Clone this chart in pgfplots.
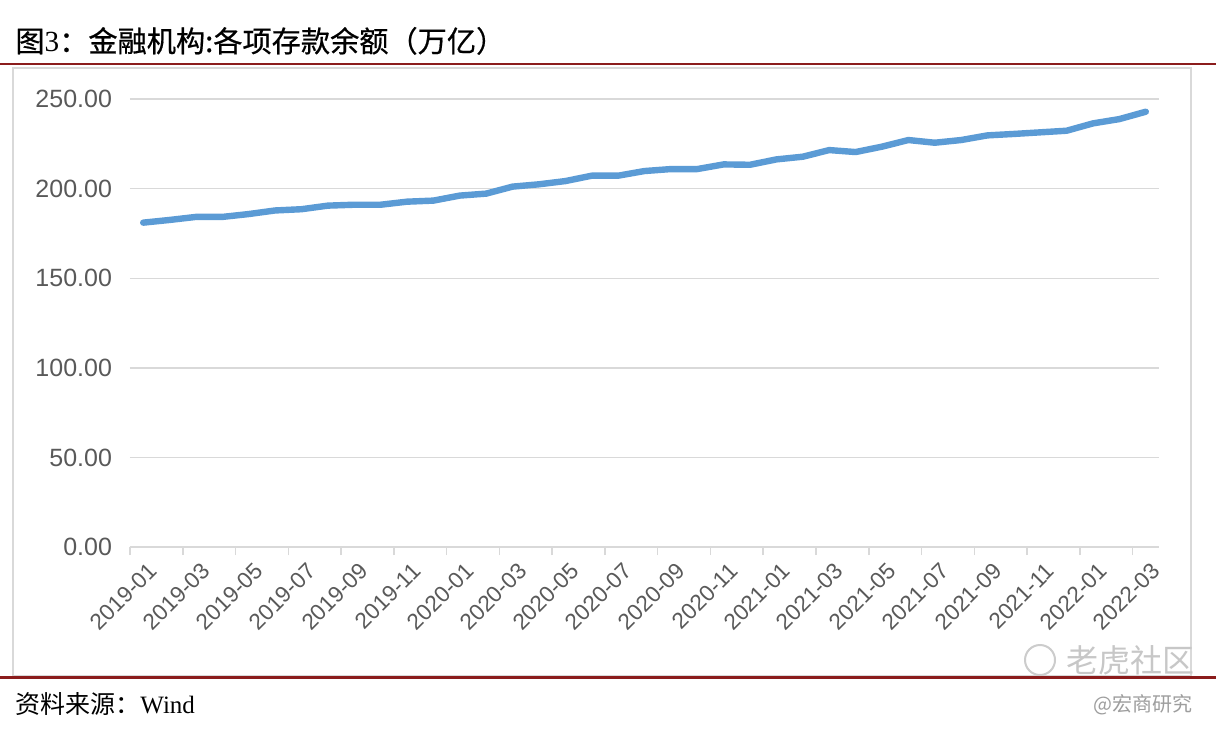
\documentclass[border=0pt]{standalone}
\usepackage{pgfplots}
\pgfplotsset{compat=1.18}
\usepackage{fontspec}
\setmainfont{Liberation Serif}
\setsansfont{Liberation Sans}
\newfontfamily\cjk{Noto Sans CJK SC}
\newfontfamily\cjkt[FakeBold=0.6]{Noto Sans CJK SC}
\definecolor{ln}{HTML}{5B9BD5}
\definecolor{dred}{HTML}{8B1C1C}
\definecolor{tickgray}{HTML}{595959}
\definecolor{gridgray}{HTML}{D9D9D9}
\pgfplotstableread{
i v
0 181.0
1 182.5
2 184.2
3 184.2
4 185.8
5 187.8
6 188.5
7 190.5
8 191.0
9 191.0
10 192.7
11 193.3
12 196.1
13 197.2
14 201.1
15 202.4
16 204.2
17 207.2
18 207.2
19 209.8
20 210.9
21 210.9
22 213.5
23 213.3
24 216.3
25 217.8
26 221.5
27 220.4
28 223.4
29 227.1
30 225.6
31 227.1
32 229.7
33 230.5
34 231.4
35 232.3
36 236.4
37 238.8
38 242.9
}\deposits
\begin{document}
\begin{tikzpicture}
\begin{scope}[x=0.5pt,y=0.5pt]
\path[fill=white,use as bounding box] (0,0) rectangle (1216,730);
\draw[gridgray,line width=0.8pt] (13,54) rectangle (1191,662);
\draw[dred,line width=1.1pt] (0,666) -- (1216,666);
\draw[dred,line width=1.1pt] (0,52.5) -- (1216,52.5);
\node[anchor=base west,inner sep=0pt] at (15,678) {\fontsize{14.6pt}{17pt}\selectfont\cjkt 图\rmfamily 3\cjkt：金融机构:各项存款余额（万亿）};
\node[anchor=base west,inner sep=0pt] at (15,17) {\fontsize{12.5pt}{14pt}\selectfont\cjk 资料来源：\rmfamily Wind};
\node[anchor=base east,inner sep=0pt,text=black!38] at (1193,19) {\fontsize{10pt}{12pt}\selectfont\cjk @宏商研究};
\node[anchor=east,inner sep=0pt,text=black!22] at (1195,70) {\fontsize{16pt}{18pt}\selectfont\cjk 老虎社区};
\draw[black!20,line width=1pt] (1040,70) circle (15);
\end{scope}
\begin{axis}[
  at={(65pt,91.5pt)}, anchor=south west,
  scale only axis, width=514.5pt, height=224pt,
  xmin=-0.5, xmax=38.5, ymin=0, ymax=250,
  axis x line*=bottom, axis y line*=left,
  x axis line style={draw=gridgray, line width=0.8pt, -},
  y axis line style={draw=none},
  ytick={0,50,...,250},
  ytick style={draw=none},
  ymajorgrids, grid style={draw=gridgray, line width=0.7pt},
  yticklabel style={font=\sffamily\fontsize{12.5pt}{14pt}\selectfont, text=tickgray, /pgf/number format/fixed, /pgf/number format/fixed zerofill, /pgf/number format/precision=2, /pgf/number format/assume math mode=true, xshift=-1.5pt},
  xtick={-0.5,1.5,...,37.5}, xticklabels={},
  xtick style={draw=gridgray, line width=0.8pt},
  tick align=outside, major tick length=4pt,
  extra x ticks={0,2,...,38},
  extra x tick labels={2019-01,2019-03,2019-05,2019-07,2019-09,2019-11,2020-01,2020-03,2020-05,2020-07,2020-09,2020-11,2021-01,2021-03,2021-05,2021-07,2021-09,2021-11,2022-01,2022-03},
  extra x tick style={major tick length=0pt, tick style={draw=none}, xticklabel style={font=\sffamily\fontsize{11.3pt}{13pt}\selectfont, text=tickgray, rotate=45, anchor=north east, inner sep=0.5pt, xshift=-3pt, yshift=-6pt}},
  clip=false,
]
\addplot[color=ln, line width=3.2pt, line join=round, line cap=round] table[x=i,y=v] {\deposits};
\end{axis}
\end{tikzpicture}
\end{document}
